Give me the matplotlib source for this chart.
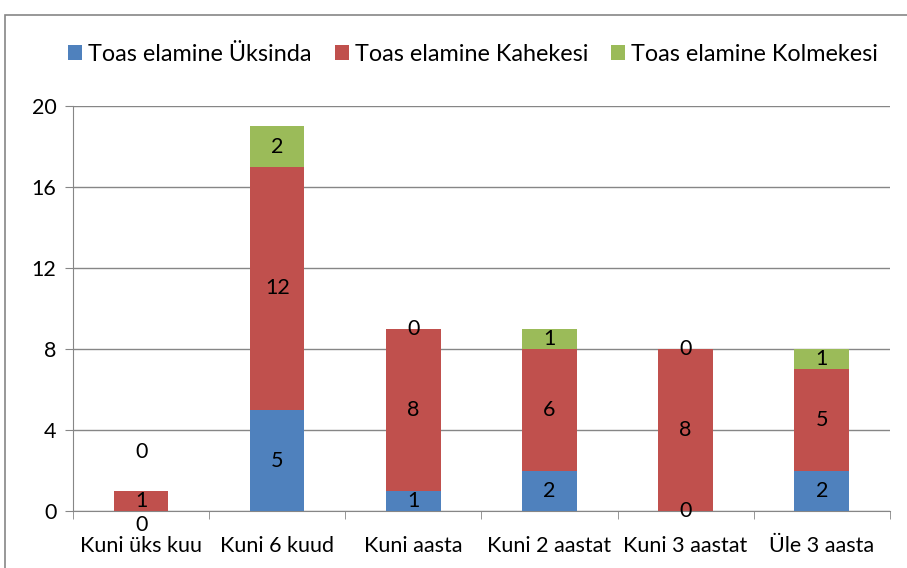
import numpy as np
import matplotlib.pyplot as plt
from matplotlib.patches import Rectangle

# data
categories = ["Kuni üks kuu", "Kuni 6 kuud", "Kuni aasta", "Kuni 2 aastat", "Kuni 3 aastat", "Üle 3 aasta"]
yksinda = [0, 5, 1, 2, 0, 2]
kahekesi = [1, 12, 8, 6, 8, 5]
kolmekesi = [0, 2, 0, 1, 0, 1]
series_names = ["Toas elamine Üksinda", "Toas elamine Kahekesi", "Toas elamine Kolmekesi"]
colors = ["#4F81BD", "#C0504D", "#9BBB59"]

plt.rcParams['font.family'] = ['Lato', 'DejaVu Sans']

fig = plt.figure(figsize=(9.07, 5.68), dpi=100)
ax = fig.add_axes([0.0805, 0.100, 0.9005, 0.713])

# outer chart border
fig.patches.append(Rectangle((0.0055, -0.05), 1.2, 0.05 + 0.974, transform=fig.transFigure,
                             fill=False, edgecolor="#868686", linewidth=1.2))

x = np.arange(len(categories))
series = [yksinda, kahekesi, kolmekesi]
bottom = np.zeros(len(categories))
for vals, name, col in zip(series, series_names, colors):
    ax.bar(x, vals, width=0.4, bottom=bottom, color=col, label=name, zorder=3)
    centers = bottom + np.array(vals) / 2
    for i, v in enumerate(vals):
        dy = 0
        # excel nudged the overlapping zero labels in the first column
        if i == 0 and name == series_names[0]:
            dy = -10
        if i == 0 and name == series_names[2]:
            dy = 28
        ax.annotate(str(v), (x[i], centers[i]), xytext=(0, dy), textcoords="offset points",
                    ha="center", va="center", fontsize=15.5, color="black", zorder=4)
    bottom = bottom + np.array(vals)

ax.set_xlim(-0.5, len(categories) - 0.5)
ax.set_ylim(0, 20)
ax.set_yticks([0, 4, 8, 12, 16, 20])
ax.yaxis.grid(True, color="#868686", linewidth=1, zorder=0)
ax.set_xticks(x)
ax.set_xticklabels(categories)
ax.set_xticks(np.arange(-0.5, len(categories)), minor=True)
ax.tick_params(axis="x", which="major", length=0, labelsize=15.5, pad=18)
ax.tick_params(axis="x", which="minor", length=6, color="#868686")
ax.tick_params(axis="y", length=6, color="#868686", labelsize=15.5, pad=6)

for s in ["top", "right"]:
    ax.spines[s].set_visible(False)
for s in ["left", "bottom"]:
    ax.spines[s].set_color("#868686")

ax.legend(loc="center", bbox_to_anchor=(0.49, 1.128), ncol=3, frameon=False, fontsize=16.8,
          handlelength=0.6, handleheight=0.6, handletextpad=0.25, columnspacing=1.0)

plt.savefig("out.png", dpi=100)
